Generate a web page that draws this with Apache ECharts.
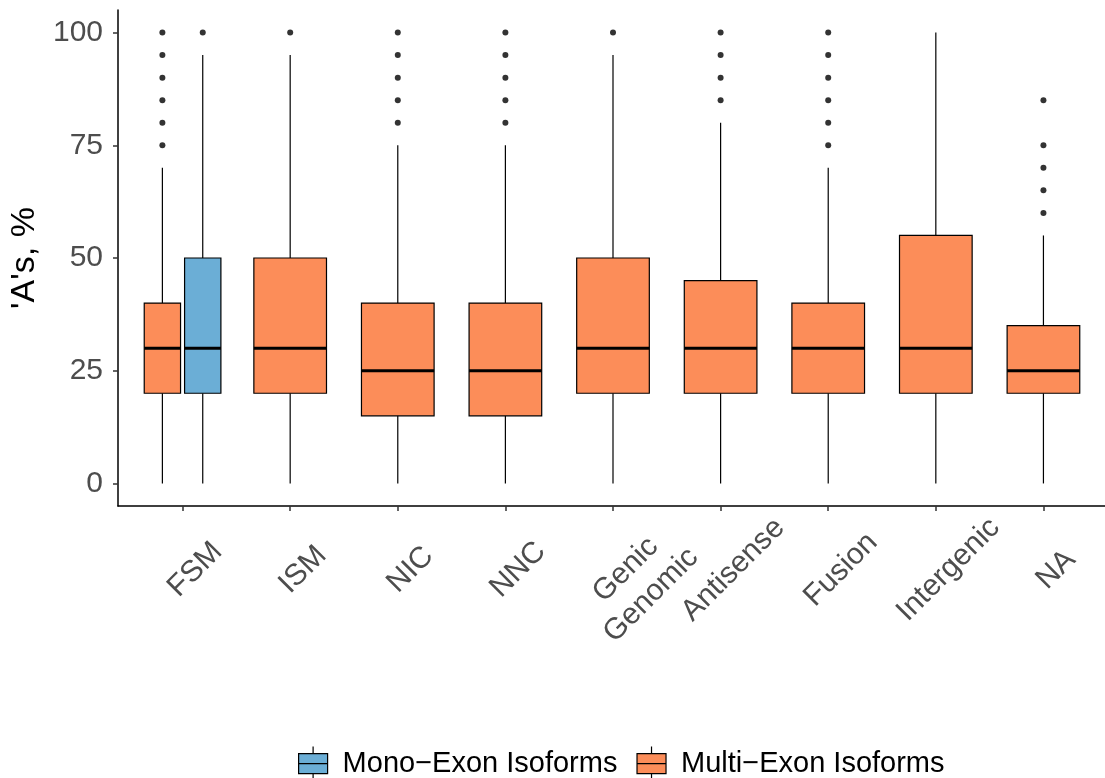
<!DOCTYPE html>
<html><head><meta charset="utf-8">
<script src="https://cdn.jsdelivr.net/npm/echarts@6/dist/echarts.min.js"></script>
<style>html,body{margin:0;padding:0;background:#fff}#c{width:1105px;height:778px}</style>
</head><body><div id="c"></div>
<script>
const categories = ['FSM','ISM','NIC','NNC','Genic\nGenomic','Antisense','Fusion','Intergenic','NA'];
const yTicks = [0, 25, 50, 75, 100];
const groupNames = ['Mono\u2212Exon Isoforms', 'Multi\u2212Exon Isoforms'];
const groupColors = ['#6BAED6', '#FC8D59'];
// [category, lower whisker, q1, median, q3, upper whisker]
const monoStats = [
  ['FSM', 0, 20, 30, 50, 95]
];
const monoOutliers = [
  ['FSM', [100]]
];
const multiStats = [
  ['FSM', 0, 20, 30, 40, 70],
  ['ISM', 0, 20, 30, 50, 95],
  ['NIC', 0, 15, 25, 40, 75],
  ['NNC', 0, 15, 25, 40, 75],
  ['Genic\nGenomic', 0, 20, 30, 50, 95],
  ['Antisense', 0, 20, 30, 45, 80],
  ['Fusion', 0, 20, 30, 40, 70],
  ['Intergenic', 0, 20, 30, 55, 100],
  ['NA', 0, 20, 25, 35, 55]
];
const multiOutliers = [
  ['FSM', [75, 80, 85, 90, 95, 100]],
  ['ISM', [100]],
  ['NIC', [80, 85, 90, 95, 100]],
  ['NNC', [80, 85, 90, 95, 100]],
  ['Genic\nGenomic', [100]],
  ['Antisense', [85, 90, 95, 100]],
  ['Fusion', [75, 80, 85, 90, 95, 100]],
  ['Intergenic', []],
  ['NA', [60, 65, 70, 75, 85]]
];

// dodge layout (left-to-right order: Multi, Mono)
const DODGE_WIDTH = 0.75, PADDING = 0.1;
const dodgeOrder = [{stats: multiStats, outl: multiOutliers, g: 1}, {stats: monoStats, outl: monoOutliers, g: 0}];
function layout(catName, g) {
  const present = dodgeOrder.filter(d => d.stats.some(s => s[0] === catName));
  const n = present.length;
  const k = present.findIndex(d => d.g === g);
  const w = DODGE_WIDTH / n;
  const idx = categories.indexOf(catName);
  return {x: idx - DODGE_WIDTH / 2 + w * (k + 0.5), w: w * (1 - PADDING)};
}
function boxData(stats, g) {
  return stats.map(s => { const L = layout(s[0], g); return [L.x, s[1], s[2], s[3], s[4], s[5], L.w]; });
}
function outlierData(outl, g) {
  const out = [];
  outl.forEach(o => { const L = layout(o[0], g); o[1].forEach(v => out.push([L.x, v])); });
  return out;
}
function renderBox(params, api) {
  const x = api.value(0);
  const pLo = api.coord([x, api.value(1)]), pQ1 = api.coord([x, api.value(2)]),
        pMed = api.coord([x, api.value(3)]), pQ3 = api.coord([x, api.value(4)]),
        pHi = api.coord([x, api.value(5)]);
  const half = api.size([api.value(6), 0])[0] / 2;
  const cx = pMed[0];
  const ls = {stroke: '#000', lineWidth: 1.2};
  return {type: 'group', children: [
    {type: 'line', shape: {x1: cx, y1: pHi[1], x2: cx, y2: pQ3[1]}, style: ls},
    {type: 'line', shape: {x1: cx, y1: pQ1[1], x2: cx, y2: pLo[1]}, style: ls},
    {type: 'rect', shape: {x: cx - half, y: pQ3[1], width: 2 * half, height: pQ1[1] - pQ3[1]},
      style: {fill: api.visual('color'), stroke: '#000', lineWidth: 1.2}},
    {type: 'line', shape: {x1: cx - half, y1: pMed[1], x2: cx + half, y2: pMed[1]}, style: {stroke: '#000', lineWidth: 3}}
  ]};
}
const font = 'Liberation Sans, Arial, sans-serif';
const catTicks = categories.map((c, i) => i);
const legendIcon = 'path://M14.5,0L14.5,7M0,7L29,7L29,27L0,27ZM0,17L29,17M14.5,27L14.5,34';

const chart = echarts.init(document.getElementById('c'));
chart.setOption({
  animation: false,
  backgroundColor: '#fff',
  grid: {left: 118, right: -3, top: 10, bottom: 272, containLabel: false, outerBoundsMode: 'none'},
  legend: {
    left: 293, top: 741, itemWidth: 29, itemHeight: 34, itemGap: 19,
    data: groupNames.map(n => ({name: n, icon: legendIcon})),
    itemStyle: {borderColor: '#000', borderWidth: 1.2},
    textStyle: {fontSize: 29, color: '#000', fontFamily: font, padding: [0, 0, 0, 10]}
  },
  xAxis: {
    type: 'value', min: -0.6, max: 8.6,
    splitLine: {show: false},
    axisLine: {show: true, onZero: false, lineStyle: {color: '#000', width: 1.5}},
    axisTick: {show: true, customValues: catTicks, length: 5, lineStyle: {color: '#333', width: 1.5}},
    axisLabel: {
      customValues: catTicks, formatter: v => categories[Math.round(v)],
      rotate: 45, align: 'center', verticalAlign: 'top', margin: 51,
      fontSize: 30, lineHeight: 36, color: '#4D4D4D', fontFamily: font
    }
  },
  yAxis: {
    type: 'value', min: -5, max: 105,
    name: "'A's, %", nameLocation: 'middle', nameGap: 76,
    nameTextStyle: {fontSize: 34, color: '#000', fontFamily: font},
    splitLine: {show: false},
    axisLine: {show: true, onZero: false, lineStyle: {color: '#000', width: 1.5}},
    axisTick: {show: true, customValues: yTicks, length: 5, lineStyle: {color: '#333', width: 1.5}},
    axisLabel: {customValues: yTicks, margin: 15, fontSize: 30, color: '#4D4D4D', fontFamily: font}
  },
  series: [
    {name: groupNames[0], type: 'custom', renderItem: renderBox, data: boxData(monoStats, 0),
      encode: {x: 0, y: [1, 2, 3, 4, 5]}, itemStyle: {color: groupColors[0], borderColor: '#000'}, z: 2},
    {name: groupNames[1], type: 'custom', renderItem: renderBox, data: boxData(multiStats, 1),
      encode: {x: 0, y: [1, 2, 3, 4, 5]}, itemStyle: {color: groupColors[1], borderColor: '#000'}, z: 2},
    {name: 'outliers', type: 'scatter', symbol: 'circle', symbolSize: 6,
      data: outlierData(monoOutliers, 0).concat(outlierData(multiOutliers, 1)),
      itemStyle: {color: '#000'}, z: 3}
  ]
});
</script></body></html>
